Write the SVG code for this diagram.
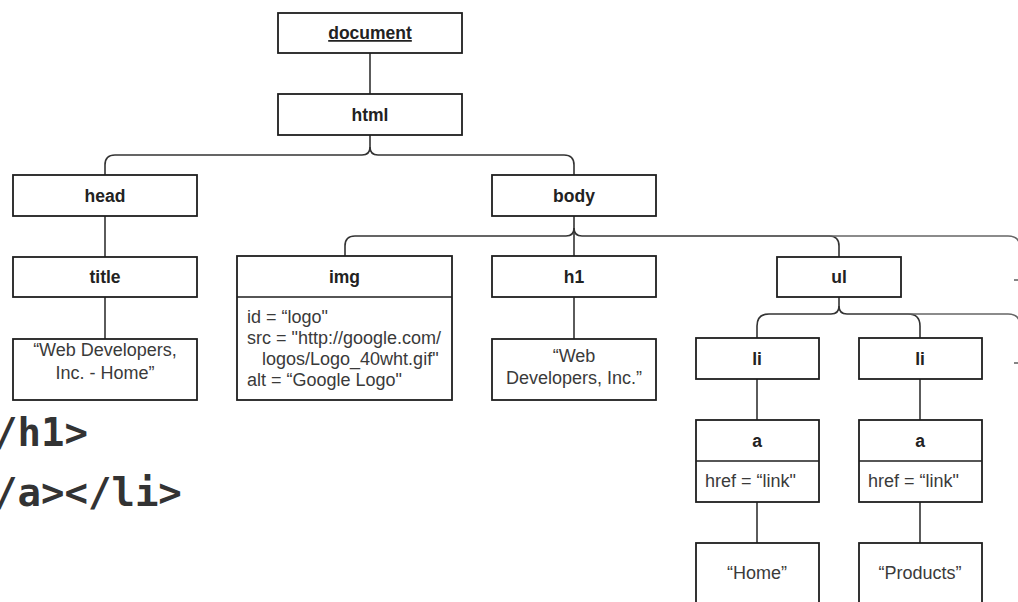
<svg xmlns="http://www.w3.org/2000/svg" width="1018" height="602" viewBox="0 0 1018 602">
<style>
.box{fill:#fff;stroke:#1e1e1e;stroke-width:1.8}
.div{stroke:#1e1e1e;stroke-width:1.6;fill:none}
.lbl{font-family:"Liberation Sans",Arial,sans-serif;font-size:17.5px;font-weight:bold;fill:#222;text-anchor:middle}
.txt{font-family:"Liberation Sans",Arial,sans-serif;font-size:18px;fill:#3a3a3a}
.mid{text-anchor:middle}
.con{fill:none;stroke:#333;stroke-width:1.6}
.con2{fill:none;stroke:#666;stroke-width:1.6}
.code{font-family:"DejaVu Sans Mono",monospace;font-weight:bold;font-size:39px;fill:#333}
</style>
<rect width="1018" height="602" fill="#fff"/>
<g id="connectors">
<path class="con" d="M370,53 V94"/>
<path class="con" d="M370,135 V147 Q370,155 362,155 H115 Q105,155 105,165 V175"/>
<path class="con" d="M370,147 Q370,155 378,155 H564 Q574,155 574,165 V175"/>
<path class="con" d="M105,216 V257"/>
<path class="con" d="M105,297 V339"/>
<path class="con" d="M574,216 V256"/>
<path class="con" d="M574,228 Q574,236 566,236 H355 Q345,236 345,246 V256"/>
<path class="con" d="M574,228 Q574,236 582,236 H829 Q839,236 839,246 V257"/>
<path class="con2" d="M829,236 H1008 Q1020,236 1020,248"/>
<path class="con" d="M574,297 V339"/>
<path class="con" d="M839,297 V306 Q839,314 831,314 H769 Q757,314 757,326 V338"/>
<path class="con" d="M839,306 Q839,314 847,314 H908 Q920,314 920,326 V338"/>
<path class="con2" d="M908,314 H1008 Q1020,314 1020,326"/>
<path class="con" d="M757,379 V420"/>
<path class="con" d="M757,502 V543"/>
<path class="con" d="M920,379 V420"/>
<path class="con" d="M920,502 V543"/>
<path class="con2" d="M1014,280 H1018"/>
<path class="con2" d="M1014,363 H1018"/>
</g>
<g id="document">
<rect class="box" x="278" y="13" width="184" height="40"/>
<text class="lbl" x="370" y="39" text-decoration="underline">document</text>
</g>
<g id="html">
<rect class="box" x="278" y="94" width="184" height="41"/>
<text class="lbl" x="370" y="121">html</text>
</g>
<g id="head">
<rect class="box" x="13" y="175" width="184" height="41"/>
<text class="lbl" x="105" y="202">head</text>
</g>
<g id="body">
<rect class="box" x="492" y="175" width="164" height="41"/>
<text class="lbl" x="574" y="202">body</text>
</g>
<g id="title">
<rect class="box" x="13" y="257" width="184" height="40"/>
<text class="lbl" x="105" y="283">title</text>
</g>
<g id="title-text">
<rect class="box" x="13" y="339" width="184" height="61"/>
<text class="txt mid" x="105" y="356">“Web Developers,</text>
<text class="txt mid" x="105" y="379">Inc. - Home”</text>
</g>
<g id="img">
<rect class="box" x="237" y="256" width="215" height="144"/>
<path class="div" d="M237,297 H452"/>
<text class="lbl" x="344.5" y="283">img</text>
<text class="txt" x="247" y="323">id = “logo"</text>
<text class="txt" x="247" y="344">src = "http://google.com/</text>
<text class="txt" x="262" y="365">logos/Logo_40wht.gif"</text>
<text class="txt" x="247" y="386">alt = “Google Logo"</text>
</g>
<g id="h1">
<rect class="box" x="492" y="256" width="164" height="41"/>
<text class="lbl" x="574" y="283">h1</text>
</g>
<g id="h1-text">
<rect class="box" x="492" y="339" width="164" height="61"/>
<text class="txt mid" x="574" y="362">“Web</text>
<text class="txt mid" x="574" y="384">Developers, Inc.”</text>
</g>
<g id="ul">
<rect class="box" x="777" y="257" width="124" height="40"/>
<text class="lbl" x="839" y="283">ul</text>
</g>
<g id="li1">
<rect class="box" x="696" y="338" width="123" height="41"/>
<text class="lbl" x="757" y="365">li</text>
</g>
<g id="li2">
<rect class="box" x="859" y="338" width="123" height="41"/>
<text class="lbl" x="920" y="365">li</text>
</g>
<g id="a1">
<rect class="box" x="696" y="420" width="123" height="82"/>
<path class="div" d="M696,461 H819"/>
<text class="lbl" x="757" y="447">a</text>
<text class="txt" x="705" y="487">href = “link"</text>
</g>
<g id="a2">
<rect class="box" x="859" y="420" width="123" height="82"/>
<path class="div" d="M859,461 H982"/>
<text class="lbl" x="920" y="447">a</text>
<text class="txt" x="868" y="487">href = “link"</text>
</g>
<g id="home">
<rect class="box" x="696" y="543" width="123" height="70"/>
<text class="txt mid" x="757" y="579">“Home”</text>
</g>
<g id="products">
<rect class="box" x="859" y="543" width="123" height="70"/>
<text class="txt mid" x="920" y="579">“Products”</text>
</g>
<g id="code">
<text class="code" x="-6" y="446">/h1&gt;</text>
<text class="code" x="-6" y="506">/a&gt;&lt;/li&gt;</text>
</g>
</svg>
